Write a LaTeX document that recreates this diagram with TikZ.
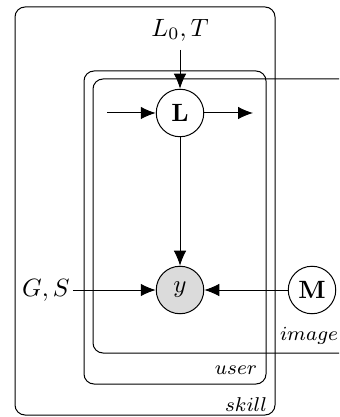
\documentclass[tikz,border=0pt]{standalone}
\usetikzlibrary{arrows.meta}
\begin{document}
\begin{tikzpicture}[x=0.4pt,y=-0.4pt,
  var/.style={circle,draw,minimum size=19pt,inner sep=0pt},
  obs/.style={var,fill=black!14},
  edge/.style={-{Latex[length=6pt,width=5pt]}},
  platelab/.style={font=\footnotesize,inner sep=0pt},
  plate/.style={rounded corners=4pt}]
\useasboundingbox (0,0) rectangle (339,417);

% plates
\draw[plate] (15,7) rectangle (275,415);
\draw[plate] (84,71) rectangle (266,384);
\draw[plate] (339,79) -- (93,79) -- (93,353) -- (339,353);

\node[platelab] (lskill) at (246,405) {$skill$};
\node[platelab] (luser) at (236,370) {$user$};
\node[platelab] (limage) at (309,336) {$image$};

% variables
\node[var] (L) at (180,113) {$\mathbf{L}$};
\node[obs] (y) at (180,290) {$y$};
\node[var] (M) at (312,290) {$\mathbf{M}$};
\node (L0T) at (180,30) {$L_0, T$};
\node[inner sep=1pt] (GS) at (46,290) {$G, S$};
\coordinate (prev) at (107,113);
\coordinate (next) at (253,113);

% edges
\draw[edge] (L0T) -- (L);
\draw[edge] (prev) -- (L);
\draw[edge] (L) -- (next);
\draw[edge] (L) -- (y);
\draw[edge] (GS) -- (y);
\draw[edge] (M) -- (y);
\end{tikzpicture}
\end{document}
